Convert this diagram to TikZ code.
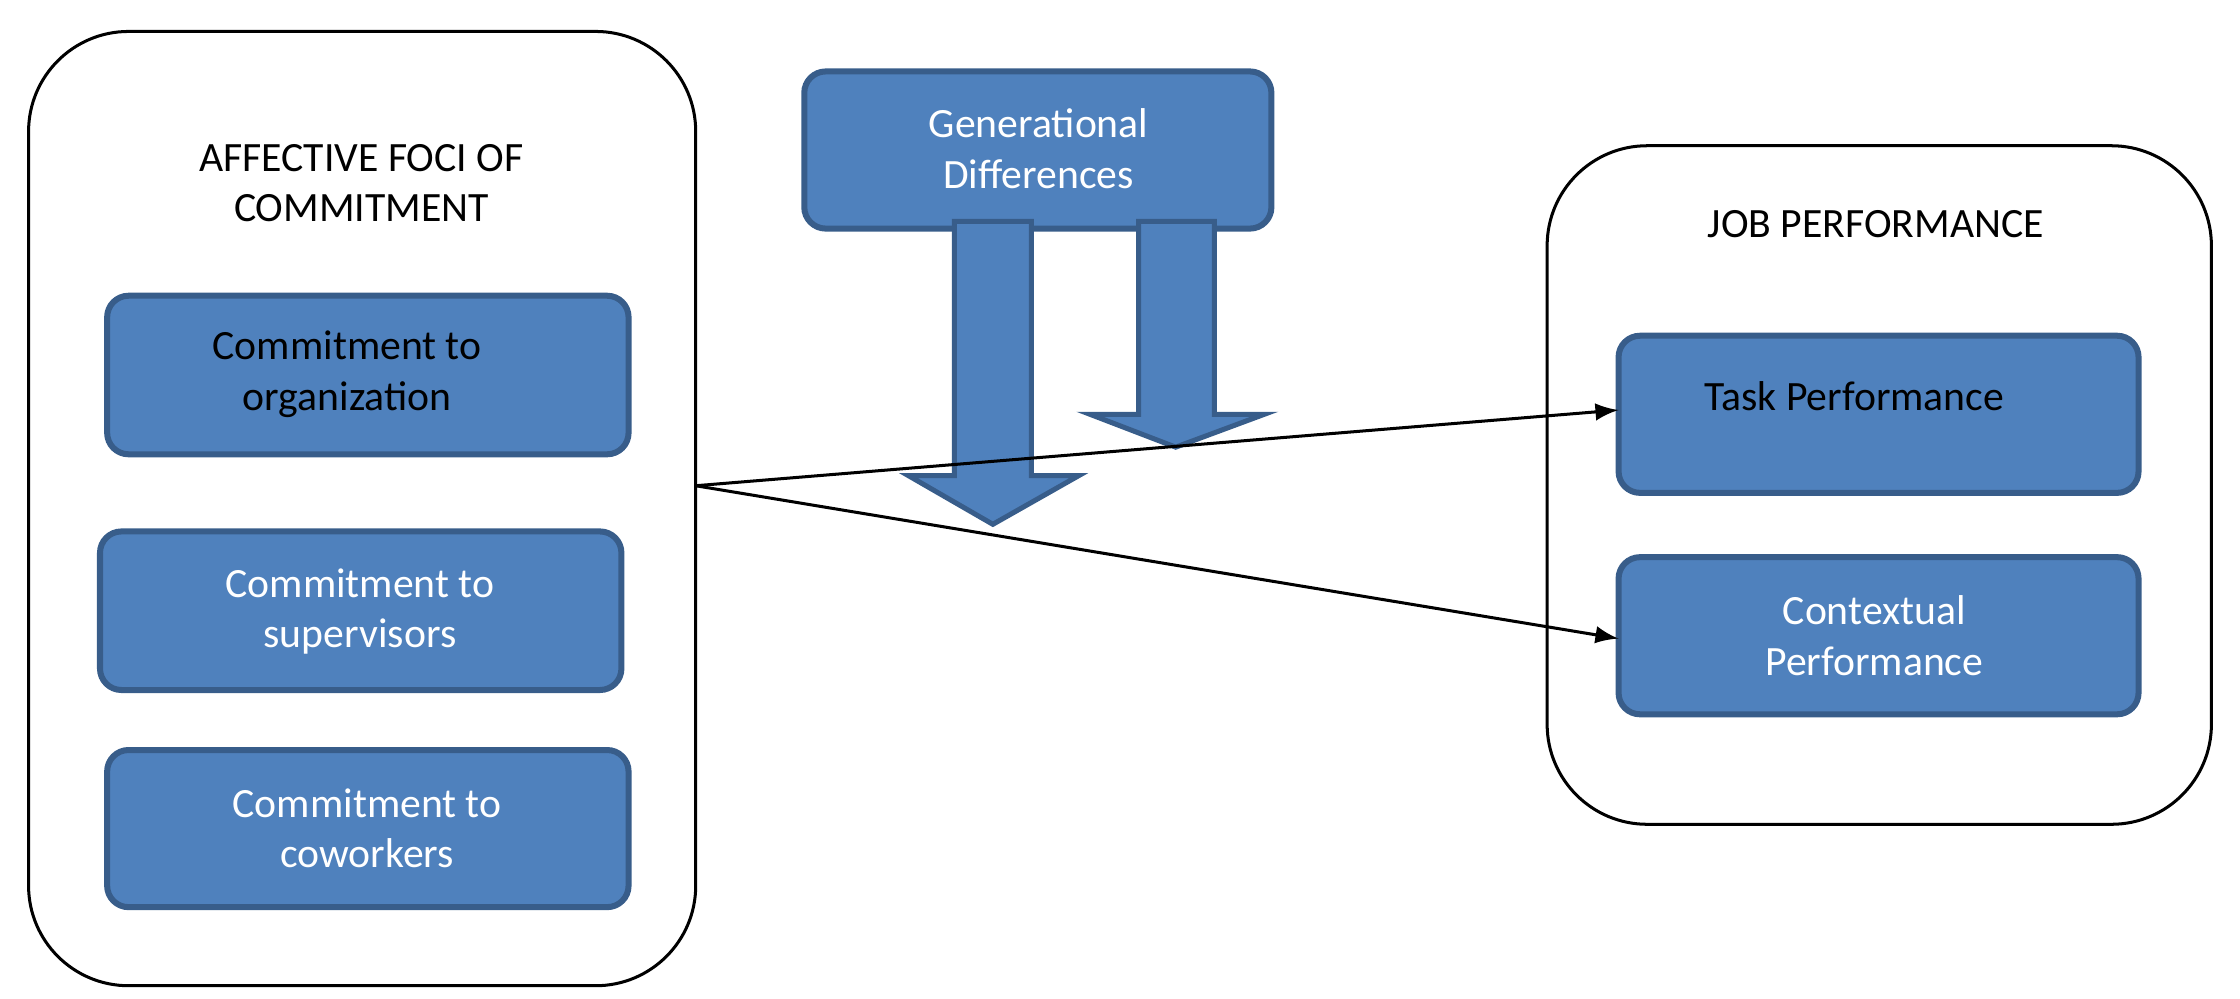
\documentclass[tikz,border=0pt]{standalone}
\usepackage{fontspec}
\setmainfont{Carlito}
\definecolor{boxblue}{HTML}{4F81BD}
\definecolor{boxedge}{HTML}{385D8A}
\begin{document}
\begin{tikzpicture}[>=latex, x=0.01cm, y=-0.01cm,
  group/.style={draw, rounded corners=0.7cm, line width=0.6pt},
  item/.style={draw=boxedge, fill=boxblue, rounded corners=0.15cm, line width=1.2pt},
  txt/.style={align=center, font=\fontsize{8.3}{10}\selectfont},
  fat/.style={draw=boxedge, fill=boxblue, line width=1pt, line join=miter}]
\useasboundingbox (0,0) rectangle (1568,699);
% Rahmen
\draw[group] (20,22) rectangle (487,690);
\draw[group] (1083,102) rectangle (1548,577);
\node[txt] (foci) at (253,128) {AFFECTIVE FOCI OF\\COMMITMENT};
\node[txt] (job) at (1313,157) {JOB PERFORMANCE};

% Blocos
\draw[item] (75,207) rectangle (440,318);
\node[txt] (org) at (243,262) {Commitment to\\organization};
\draw[item] (70,372) rectangle (435,483);
\node[txt, white] (sup) at (252,428) {Commitment to\\supervisors};
\draw[item] (75,525) rectangle (440,635);
\node[txt, white] (cow) at (257,580) {Commitment to\\coworkers};
\draw[item] (563,50) rectangle (890,160);
\node[txt, white] (gen) at (727,104) {Generational\\Differences};
\draw[item] (1133,235) rectangle (1497,345);
\node[txt] (task) at (1298,277) {Task Performance};
\draw[item] (1133,390) rectangle (1497,500);
\node[txt, white] (ctx) at (1312,445) {Contextual\\Performance};

% Setas largas
\draw[fat] (668,155) -- (722,155) -- (722,333) -- (755,333) -- (695,367)
  -- (636,333) -- (668,333) -- cycle;
\draw[fat] (797,155) -- (850,155) -- (850,290) -- (885,290) -- (823,313)
  -- (763,290) -- (797,290) -- cycle;

% Conexões
\coordinate (src) at (487,340);
\coordinate (t1) at (1133,287);
\coordinate (t2) at (1133,447);
\draw[->, line width=0.6pt] (src) -- (t1);
\draw[->, line width=0.6pt] (src) -- (t2);
\end{tikzpicture}
\end{document}
